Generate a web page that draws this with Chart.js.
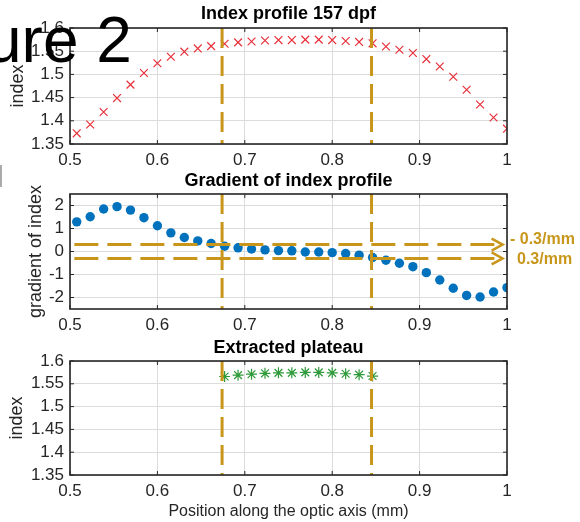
<!DOCTYPE html>
<html>
<head>
<meta charset="utf-8">
<script src="https://cdn.jsdelivr.net/npm/chart.js@4"></script>
<style>
  html, body { margin: 0; padding: 0; background: #fff; }
  #page { position: relative; width: 580px; height: 522px; overflow: hidden; }
  .panel { position: absolute; left: 0; }
  #fig-label {
    position: absolute; left: -14px; top: 8px; z-index: 2; white-space: nowrap;
    font: 64px 'Liberation Sans', Arial, sans-serif; line-height: 64px; color: #000;
  }
  #edge-mark { position: absolute; left: 0; top: 165px; width: 2px; height: 22px; background: #aaa; }
</style>
</head>
<body>
<div id="page">
  <div id="fig-label">ure 2</div>
  <div id="edge-mark"></div>
  <canvas class="panel" id="c1" width="580" height="170" style="top:0"></canvas>
  <canvas class="panel" id="c2" width="580" height="166" style="top:170px"></canvas>
  <canvas class="panel" id="c3" width="580" height="186" style="top:336px"></canvas>
</div>
<script>
// positions along the optic axis (mm)
const positionMm = [0.5077, 0.5231, 0.5385, 0.5538, 0.5692, 0.5846, 0.6000, 0.6154, 0.6308, 0.6462, 0.6615,
  0.6769, 0.6923, 0.7077, 0.7231, 0.7385, 0.7538, 0.7692, 0.7846, 0.8000, 0.8154, 0.8308, 0.8462,
  0.8615, 0.8769, 0.8923, 0.9077, 0.9231, 0.9385, 0.9538, 0.9692, 0.9846, 1.0000];
const indexValues = [1.373, 1.392, 1.419, 1.449, 1.478, 1.503, 1.524, 1.538, 1.549, 1.556, 1.561,
  1.566, 1.569, 1.571, 1.573, 1.574, 1.574, 1.575, 1.575, 1.574, 1.572, 1.570, 1.567,
  1.560, 1.553, 1.546, 1.533, 1.517, 1.495, 1.467, 1.435, 1.407, 1.383];
const gradientValues = [1.29, 1.51, 1.85, 1.95, 1.80, 1.47, 1.12, 0.81, 0.61, 0.46, 0.35,
  0.23, 0.16, 0.11, 0.07, 0.04, 0.03, -0.02, -0.02, -0.05, -0.09, -0.16, -0.26,
  -0.38, -0.51, -0.66, -0.92, -1.24, -1.60, -1.91, -1.98, -1.76, -1.57];

const gradLimit = 0.3;          // /mm, plateau threshold
const plateauStartMm = 0.674;
const plateauEndMm = 0.845;
const arrowTipMm = 0.995;

const xTicks = [0.5, 0.6, 0.7, 0.8, 0.9, 1];
const xTickLabels = ['0.5', '0.6', '0.7', '0.8', '0.9', '1'];
const indexTicks = [1.35, 1.4, 1.45, 1.5, 1.55, 1.6];
const indexTickLabels = ['1.35', '1.4', '1.45', '1.5', '1.55', '1.6'];
const gradTicks = [-2, -1, 0, 1, 2];
const gradTickLabels = ['-2', '-1', '0', '1', '2'];

// plateau = points where the gradient stays inside +-gradLimit
const plateauX = [], plateauY = [];
positionMm.forEach((x, i) => {
  if (Math.abs(gradientValues[i]) < gradLimit) { plateauX.push(x); plateauY.push(indexValues[i]); }
});

const GOLD = '#c9961c';
const FONT = "'Liberation Sans', Arial, Helvetica, sans-serif";
const pts = (xs, ys) => xs.map((x, i) => ({ x: x, y: ys[i] }));

const frame = {
  id: 'frame',
  afterDraw(chart, args, opts) {
    const { ctx, chartArea: a, scales: { x, y } } = chart;
    ctx.save();
    ctx.strokeStyle = '#262626';
    ctx.lineWidth = 1;
    ctx.beginPath();
    x.ticks.forEach(t => {
      const px = x.getPixelForValue(t.value);
      ctx.moveTo(px, a.bottom); ctx.lineTo(px, a.bottom - 4);
      ctx.moveTo(px, a.top); ctx.lineTo(px, a.top + 4);
    });
    y.ticks.forEach(t => {
      const py = y.getPixelForValue(t.value);
      ctx.moveTo(a.left, py); ctx.lineTo(a.left + 4, py);
      ctx.moveTo(a.right, py); ctx.lineTo(a.right - 4, py);
    });
    ctx.stroke();
    ctx.lineWidth = 1.6;
    ctx.strokeRect(a.left, a.top, a.right - a.left, a.bottom - a.top);

    ctx.fillStyle = '#000';
    ctx.textAlign = 'center';
    ctx.textBaseline = 'middle';
    ctx.font = 'bold 18px ' + FONT;
    ctx.fillText(opts.title, (a.left + a.right) / 2, opts.titleY);

    ctx.fillStyle = '#262626';
    ctx.font = '18px ' + FONT;
    ctx.save();
    ctx.translate(opts.yLabelX, (a.top + a.bottom) / 2);
    ctx.rotate(-Math.PI / 2);
    ctx.fillText(opts.yLabel, 0, 0);
    ctx.restore();
    if (opts.xLabel) {
      ctx.font = '16px ' + FONT;
      ctx.fillText(opts.xLabel, (a.left + a.right) / 2, opts.xLabelY);
    }
    ctx.restore();
  }
};

// arrow heads and threshold labels on the gradient panel
const thresholds = {
  id: 'thresholds',
  afterDatasetsDraw(chart) {
    const { ctx, scales: { x, y } } = chart;
    ctx.save();
    ctx.strokeStyle = GOLD;
    ctx.lineWidth = 2.5;
    [gradLimit, -gradLimit].forEach(v => {
      const px = x.getPixelForValue(arrowTipMm), py = y.getPixelForValue(v);
      ctx.beginPath();
      ctx.moveTo(px - 11, py - 6); ctx.lineTo(px, py); ctx.lineTo(px - 11, py + 6);
      ctx.stroke();
    });
    ctx.restore();
  },
  afterDraw(chart) {
    const { ctx, chartArea: a, scales: { y } } = chart;
    ctx.save();
    ctx.fillStyle = GOLD;
    ctx.font = 'bold 16px ' + FONT;
    ctx.textBaseline = 'middle';
    ctx.textAlign = 'left';
    ctx.fillText('- 0.3/mm', a.right + 3, y.getPixelForValue(gradLimit) - 5);
    ctx.fillText('0.3/mm', a.right + 10, y.getPixelForValue(-gradLimit) + 1);
    ctx.restore();
  }
};

function vline(xv, yMin, yMax) {
  return {
    data: [{ x: xv, y: yMax }, { x: xv, y: yMin }],
    showLine: true, pointRadius: 0, borderColor: GOLD, borderWidth: 3, borderDash: [20, 8]
  };
}
function hline(yv) {
  return {
    data: [{ x: 0.505, y: yv }, { x: arrowTipMm, y: yv }],
    showLine: true, pointRadius: 0, borderColor: GOLD, borderWidth: 3, borderDash: [24, 9]
  };
}

function makeChart(id, cfg) {
  return new Chart(document.getElementById(id), {
    type: 'scatter',
    data: { datasets: cfg.datasets },
    plugins: [frame].concat(cfg.plugins || []),
    options: {
      responsive: false,
      animation: false,
      events: [],
      layout: { padding: { top: cfg.padTop, left: 0, right: 73, bottom: 0 } },
      plugins: {
        legend: { display: false },
        tooltip: { enabled: false },
        frame: cfg.frame
      },
      scales: {
        x: {
          type: 'linear', min: 0.5, max: 1,
          afterBuildTicks: s => { s.ticks = xTicks.map(v => ({ value: v })); },
          afterFit: s => { s.height = cfg.xHeight; },
          ticks: { callback: (v, i) => xTickLabels[i], autoSkip: false, maxRotation: 0,
                   color: '#262626', padding: 6, font: { family: FONT, size: 17 } },
          grid: { color: '#dcdcdc', lineWidth: 1, drawTicks: false },
          border: { display: false }
        },
        y: {
          type: 'linear', min: cfg.yMin, max: cfg.yMax,
          afterBuildTicks: s => { s.ticks = cfg.yTicks.map(v => ({ value: v })); },
          afterFit: s => { s.width = 70; },
          ticks: { callback: (v, i) => cfg.yTickLabels[i], autoSkip: false,
                   color: '#262626', padding: 6, font: { family: FONT, size: 17 } },
          grid: { color: '#dcdcdc', lineWidth: 1, drawTicks: false },
          border: { display: false }
        }
      }
    }
  });
}

makeChart('c1', {
  padTop: 28, xHeight: 26, yMin: 1.35, yMax: 1.6, yTicks: indexTicks, yTickLabels: indexTickLabels,
  frame: { title: 'Index profile 157 dpf', titleY: 14, yLabel: 'index', yLabelX: 18 },
  datasets: [
    vline(plateauStartMm, 1.35, 1.6),
    vline(plateauEndMm, 1.35, 1.6),
    { data: pts(positionMm, indexValues), pointStyle: 'crossRot', pointRadius: 5.5,
      borderColor: '#e8303a', backgroundColor: '#e8303a', pointBorderWidth: 1.2 }
  ]
});

makeChart('c2', {
  padTop: 24, xHeight: 27, yMin: -2.5, yMax: 2.5, yTicks: gradTicks, yTickLabels: gradTickLabels,
  frame: { title: 'Gradient of index profile', titleY: 11, yLabel: 'gradient of index', yLabelX: 36 },
  plugins: [thresholds],
  datasets: [
    vline(plateauStartMm, -2.5, 2.5),
    vline(plateauEndMm, -2.5, 2.5),
    hline(gradLimit),
    hline(-gradLimit),
    { data: pts(positionMm, gradientValues), pointStyle: 'circle', pointRadius: 4.7,
      borderColor: '#0072bd', backgroundColor: '#0072bd', pointBorderWidth: 0 }
  ]
});

makeChart('c3', {
  padTop: 25, xHeight: 47, yMin: 1.35, yMax: 1.6, yTicks: indexTicks, yTickLabels: indexTickLabels,
  frame: { title: 'Extracted plateau', titleY: 12, yLabel: 'index', yLabelX: 17,
           xLabel: 'Position along the optic axis (mm)', xLabelY: 176 },
  datasets: [
    vline(plateauStartMm, 1.35, 1.6),
    vline(plateauEndMm, 1.35, 1.6),
    { data: pts(plateauX, plateauY), pointStyle: 'star', pointRadius: 5.5,
      borderColor: '#2e9a3a', backgroundColor: '#2e9a3a', pointBorderWidth: 1.2 }
  ]
});
</script>
</body>
</html>
